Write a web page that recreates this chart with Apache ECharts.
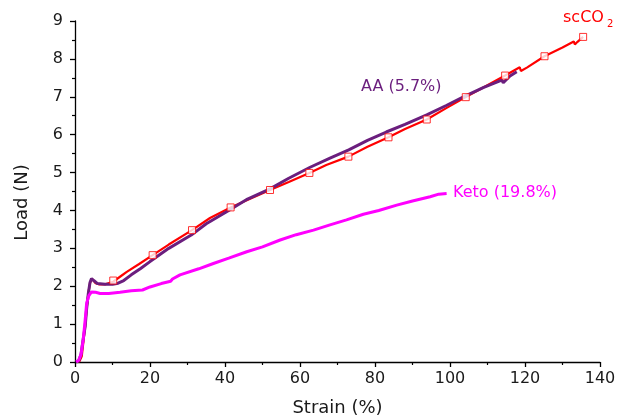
<!DOCTYPE html>
<html>
<head>
<meta charset="utf-8">
<title>Load vs Strain</title>
<script src="https://cdn.jsdelivr.net/npm/echarts@6/dist/echarts.min.js"></script>
<style>
  html, body { margin: 0; padding: 0; background: #ffffff; }
  #chart { width: 620px; height: 416px; }
</style>
</head>
<body>
<div id="chart"></div>
<script>
// Tensile curves: load (N) against strain (%) for three treatments.
const xTicks = [0, 20, 40, 60, 80, 100, 120, 140];
const yTicks = [0, 1, 2, 3, 4, 5, 6, 7, 8, 9];

// scCO2 treated sample
const scStrain = [0.5, 1.2, 1.8, 2.2, 2.7, 3.1, 3.6, 4.0, 4.5, 5.0, 5.5, 6.5, 8.0, 10.2, 12.0, 13.8, 17.0, 20.7, 25.0, 31.2, 36.0, 41.5, 47.0, 52.0, 57.0, 62.5, 67.0, 72.9, 78.0, 83.6, 88.0, 93.8, 99.0, 104.2, 109.0, 114.7, 118.6, 118.9, 120.5, 125.2, 130.0, 133.0, 133.3, 134.0, 135.5];
const scLoad   = [0.00, 0.02, 0.15, 0.50, 0.95, 1.40, 1.85, 2.08, 2.20, 2.15, 2.08, 2.05, 2.05, 2.12, 2.25, 2.38, 2.58, 2.82, 3.10, 3.48, 3.80, 4.08, 4.32, 4.54, 4.75, 4.99, 5.20, 5.42, 5.68, 5.93, 6.15, 6.40, 6.70, 6.99, 7.25, 7.56, 7.78, 7.68, 7.77, 8.07, 8.30, 8.46, 8.38, 8.45, 8.58];
// open-square markers along the scCO2 curve
const scMarkStrain = [10.2, 20.7, 31.2, 41.5, 52.0, 62.5, 72.9, 83.6, 93.8, 104.2, 114.7, 125.2, 135.5];
const scMarkLoad   = [2.15, 2.82, 3.48, 4.08, 4.54, 4.99, 5.42, 5.93, 6.40, 6.99, 7.56, 8.07, 8.58];

// AA treated sample
const aaStrain = [0.3, 1.0, 1.6, 2.1, 2.7, 3.1, 3.55, 4.0, 4.4, 5.0, 6.0, 8.0, 10.0, 11.5, 13.0, 15.0, 17.5, 20.0, 25.0, 31.0, 35.0, 41.0, 46.0, 52.0, 57.0, 62.7, 68.0, 73.0, 78.0, 83.0, 88.0, 93.8, 99.0, 104.0, 109.0, 113.8, 114.2, 116.0, 117.8];
const aaLoad   = [0.00, 0.03, 0.20, 0.55, 0.93, 1.40, 1.81, 2.10, 2.20, 2.15, 2.07, 2.05, 2.05, 2.08, 2.15, 2.30, 2.47, 2.65, 3.00, 3.35, 3.65, 4.00, 4.30, 4.57, 4.85, 5.14, 5.38, 5.60, 5.85, 6.07, 6.27, 6.52, 6.77, 7.02, 7.25, 7.44, 7.37, 7.55, 7.66];

// Keto treated sample
const ketoStrain = [0.3, 1.0, 1.6, 2.2, 2.7, 3.1, 3.7, 4.4, 5.5, 6.7, 9.0, 12.0, 15.0, 18.0, 20.0, 23.0, 25.5, 26.0, 26.5, 28.0, 33.0, 36.9, 41.0, 45.8, 50.0, 54.7, 59.0, 63.6, 68.0, 72.4, 76.9, 77.2, 81.0, 85.8, 90.0, 94.7, 97.0, 99.1];
const ketoLoad   = [0.00, 0.05, 0.20, 0.60, 1.10, 1.55, 1.75, 1.85, 1.84, 1.81, 1.81, 1.84, 1.88, 1.90, 1.98, 2.07, 2.13, 2.19, 2.16, 2.30, 2.46, 2.60, 2.74, 2.91, 3.04, 3.22, 3.36, 3.48, 3.62, 3.75, 3.90, 3.85, 4.00, 4.14, 4.25, 4.36, 4.43, 4.45];

const RED = '#ff0000';
const PURPLE = '#6b1e7e';
const MAGENTA = '#ff00ff';
const FONT = 'DejaVu Sans';

const pairs = (xs, ys) => xs.map((x, i) => [x, ys[i]]);

const chart = echarts.init(document.getElementById('chart'), null, { renderer: 'canvas' });

const axisCommon = {
  type: 'value',
  axisLine: { show: true, lineStyle: { color: '#000', width: 1.3 } },
  axisTick: { show: true, inside: false, length: 5, lineStyle: { color: '#000', width: 1.3 } },
  minorTick: { show: true, splitNumber: 2, length: 3, lineStyle: { color: '#000', width: 1.2 } },
  splitLine: { show: false },
  minorSplitLine: { show: false },
  axisLabel: { color: '#1a1a1a', fontSize: 16, fontFamily: FONT },
  nameTextStyle: { color: '#1a1a1a', fontSize: 18, fontFamily: FONT }
};

chart.setOption({
  backgroundColor: '#ffffff',
  animation: false,
  grid: { left: 75, right: 20, top: 21, bottom: 54, containLabel: false, outerBoundsMode: 'none' },
  xAxis: Object.assign({}, axisCommon, {
    min: xTicks[0], max: xTicks[xTicks.length - 1], interval: xTicks[1] - xTicks[0],
    name: 'Strain (%)', nameLocation: 'middle', nameGap: 37,
    axisLabel: Object.assign({}, axisCommon.axisLabel, { margin: 9 })
  }),
  yAxis: Object.assign({}, axisCommon, {
    min: yTicks[0], max: yTicks[yTicks.length - 1], interval: yTicks[1] - yTicks[0],
    name: 'Load (N)', nameLocation: 'middle', nameGap: 44, nameRotate: 90,
    nameTextStyle: Object.assign({}, axisCommon.nameTextStyle, { padding: [0, 22, 0, 0] }),
    axisLabel: Object.assign({}, axisCommon.axisLabel, { margin: 12 })
  }),
  series: [
    {
      name: 'scCO2', type: 'line', data: pairs(scStrain, scLoad),
      showSymbol: false, symbol: 'none', z: 2,
      lineStyle: { color: RED, width: 2.2 }
    },
    {
      name: 'AA (5.7%)', type: 'line', data: pairs(aaStrain, aaLoad),
      showSymbol: false, symbol: 'none', z: 3,
      lineStyle: { color: PURPLE, width: 3 }
    },
    {
      name: 'Keto (19.8%)', type: 'line', data: pairs(ketoStrain, ketoLoad),
      showSymbol: false, symbol: 'none', z: 3,
      lineStyle: { color: MAGENTA, width: 3 }
    },
    {
      name: 'scCO2 markers', type: 'scatter', data: pairs(scMarkStrain, scMarkLoad),
      symbol: 'rect', symbolSize: 7, z: 4, clip: false,
      itemStyle: { color: '#ffffff', borderColor: RED, borderWidth: 1 }
    }
  ],
  graphic: [
    {
      type: 'text', left: 563, top: 10, z: 10,
      style: {
        text: 'scCO{sub|2}',
        fill: RED, font: '16px "' + FONT + '"',
        rich: { sub: { fontSize: 10, fill: RED, fontFamily: FONT, padding: [12, 0, 0, 3] } }
      }
    },
    {
      type: 'text', left: 361, top: 79, z: 10,
      style: { text: 'AA (5.7%)', fill: PURPLE, font: '16px "' + FONT + '"' }
    },
    {
      type: 'text', left: 453, top: 185, z: 10,
      style: { text: 'Keto (19.8%)', fill: MAGENTA, font: '16px "' + FONT + '"' }
    }
  ]
});
</script>
</body>
</html>
